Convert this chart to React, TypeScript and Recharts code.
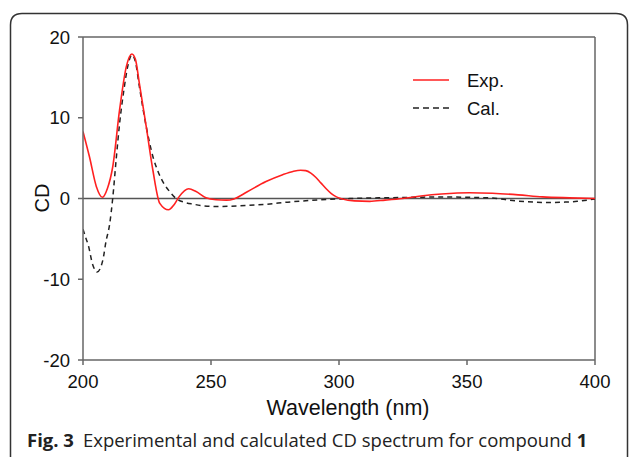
import React from 'react';
import { LineChart, Line, XAxis, YAxis, ReferenceLine, Legend } from 'recharts';

const expWavelength = [200, 202.5, 205.2, 207.6, 209.5, 211.6, 214.3, 216.9, 219.1, 220.5, 222, 224.7, 227.3, 230, 233.4, 235.5, 237.5, 241.3, 244, 248, 252, 256, 259, 264, 271.5, 278, 282, 285, 287, 289, 291, 293, 295, 297, 299, 301, 306, 312, 318, 324.8, 332, 340, 351, 360, 370, 379.5, 390, 400];
const expCD = [8.3, 5.2, 1.5, 0.15, 1.2, 3.9, 11.0, 16.3, 17.9, 17.2, 14.3, 8.9, 3.5, -0.6, -1.4, -0.8, 0.2, 1.2, 0.9, 0.1, -0.15, -0.2, -0.05, 0.8, 2.1, 2.95, 3.35, 3.5, 3.45, 3.15, 2.6, 1.9, 1.2, 0.6, 0.2, -0.02, -0.3, -0.35, -0.2, 0.0, 0.3, 0.55, 0.72, 0.65, 0.45, 0.2, 0.08, 0.0];

const calWavelength = [200, 201, 202, 203.8, 205.5, 207.7, 209, 210.4, 211.6, 213, 214.3, 216, 217.5, 219.1, 220.5, 222, 224.7, 227.3, 229.5, 231.5, 234, 236.4, 240, 243, 247, 252, 258, 265, 272, 280, 288.5, 295, 301, 310, 321, 330, 340.5, 350, 360, 369, 376, 382, 388, 393, 400];
const calCD = [-3.8, -4.8, -5.7, -8.2, -9.1, -7.7, -5.3, -3.2, 0.0, 5.0, 9.3, 13.5, 16.4, 17.8, 16.9, 13.9, 8.9, 5.2, 3.2, 1.9, 0.8, 0.0, -0.5, -0.7, -0.9, -1.0, -0.95, -0.85, -0.7, -0.45, -0.25, -0.12, -0.05, 0.05, 0.1, 0.15, 0.2, 0.15, 0.05, -0.3, -0.45, -0.5, -0.45, -0.35, -0.05];

const xTicks = [200, 250, 300, 350, 400];
const yTicks = [-20, -10, 0, 10, 20];

const seriesNames = ['Exp.', 'Cal.'];
const seriesColors = ['#ff2020', '#222222'];
const seriesDash = [undefined, '5 4'];
const legendDash = [undefined, '6 4'];

const expData = expWavelength.map((w, i) => ({ wavelength: w, cd: expCD[i] }));
const calData = calWavelength.map((w, i) => ({ wavelength: w, cd: calCD[i] }));

const tickStyle = { fontSize: 18.5, fill: '#111', fontFamily: 'Liberation Sans, Arial, sans-serif' };
const axisColor = '#666';

const LegendContent = (props: any) => {
  const payload = [...(props.payload || [])].sort(
    (a: any, b: any) => seriesNames.indexOf(a.value) - seriesNames.indexOf(b.value)
  );
  return (
    <svg width={120} height={50} style={{ display: 'block' }}>
      {payload.map((p: any, i: number) => {
        const idx = seriesNames.indexOf(p.value);
        const y = 10 + 28 * i;
        return (
          <g key={p.value}>
            <line x1={0} x2={36} y1={y} y2={y} stroke={seriesColors[idx]} strokeWidth={1.5} strokeDasharray={legendDash[idx]} />
            <text x={54} y={y} dominantBaseline="central" fontSize={18.5} fill="#111" fontFamily="Liberation Sans, Arial, sans-serif">{p.value}</text>
          </g>
        );
      })}
    </svg>
  );
};

export default function App() {
  return (
    <div style={{ position: 'absolute', left: 0, top: 0, width: 629, height: 457, overflow: 'hidden', background: '#fff' }}>
      <svg width={629} height={457} style={{ position: 'absolute', left: 0, top: 0 }}>
        <path d="M 10.5 470 L 10.5 25 Q 10.5 13.5 22 13.5 L 616 13.5 Q 627.5 13.5 627.5 25 L 627.5 470" fill="none" stroke="#333" strokeWidth={1.5} />
        <text x={27} y={447} fontSize={18.5} fill="#222" fontFamily="Open Sans, Noto Sans, sans-serif">
          <tspan fontWeight="bold">Fig. 3</tspan>
          <tspan dx={9}>Experimental and calculated CD spectrum for compound </tspan>
          <tspan fontWeight="bold">1</tspan>
        </text>
      </svg>
      <div style={{ position: 'absolute', left: 0, top: 0 }}>
        <LineChart width={629} height={457} margin={{ top: 37, right: 34, bottom: 0, left: 0 }}>
          <XAxis
            dataKey="wavelength"
            type="number"
            domain={[200, 400]}
            ticks={xTicks}
            allowDataOverflow
            stroke={axisColor}
            strokeWidth={1.5}
            tickSize={5}
            tickMargin={10}
            tick={tickStyle}
            height={97}
            label={{
              content: () => (
                <text x={348} y={414.5} textAnchor="middle" fontSize={21.5} fill="#111" fontFamily="Liberation Sans, Arial, sans-serif">Wavelength (nm)</text>
              ),
            }}
          />
          <YAxis
            type="number"
            domain={[-20, 20]}
            ticks={yTicks}
            allowDataOverflow
            stroke={axisColor}
            strokeWidth={1.5}
            tickSize={5}
            tickMargin={8}
            tick={tickStyle}
            width={83}
            label={{
              content: () => (
                <text x={41.5} y={198} transform="rotate(-90 41.5 198)" textAnchor="middle" dominantBaseline="central" fontSize={20} fill="#111" fontFamily="Liberation Sans, Arial, sans-serif">CD</text>
              ),
            }}
          />
          <ReferenceLine y={20} stroke={axisColor} strokeWidth={1.5} />
          <ReferenceLine x={400} stroke={axisColor} strokeWidth={1.5} />
          <ReferenceLine y={0} stroke="#555" strokeWidth={1.5} />
          <Legend
            layout="horizontal"
            verticalAlign="middle"
            align="center"
            content={<LegendContent />}
            wrapperStyle={{ top: 70, left: 413, width: 120, height: 50 }}
          />
          <Line data={calData} dataKey="cd" name={seriesNames[1]} type="monotone" stroke={seriesColors[1]} strokeWidth={1.5} strokeDasharray={seriesDash[1]} dot={false} activeDot={false} isAnimationActive={false} />
          <Line data={expData} dataKey="cd" name={seriesNames[0]} type="monotone" stroke={seriesColors[0]} strokeWidth={1.6} dot={false} activeDot={false} isAnimationActive={false} />
        </LineChart>
      </div>
    </div>
  );
}
